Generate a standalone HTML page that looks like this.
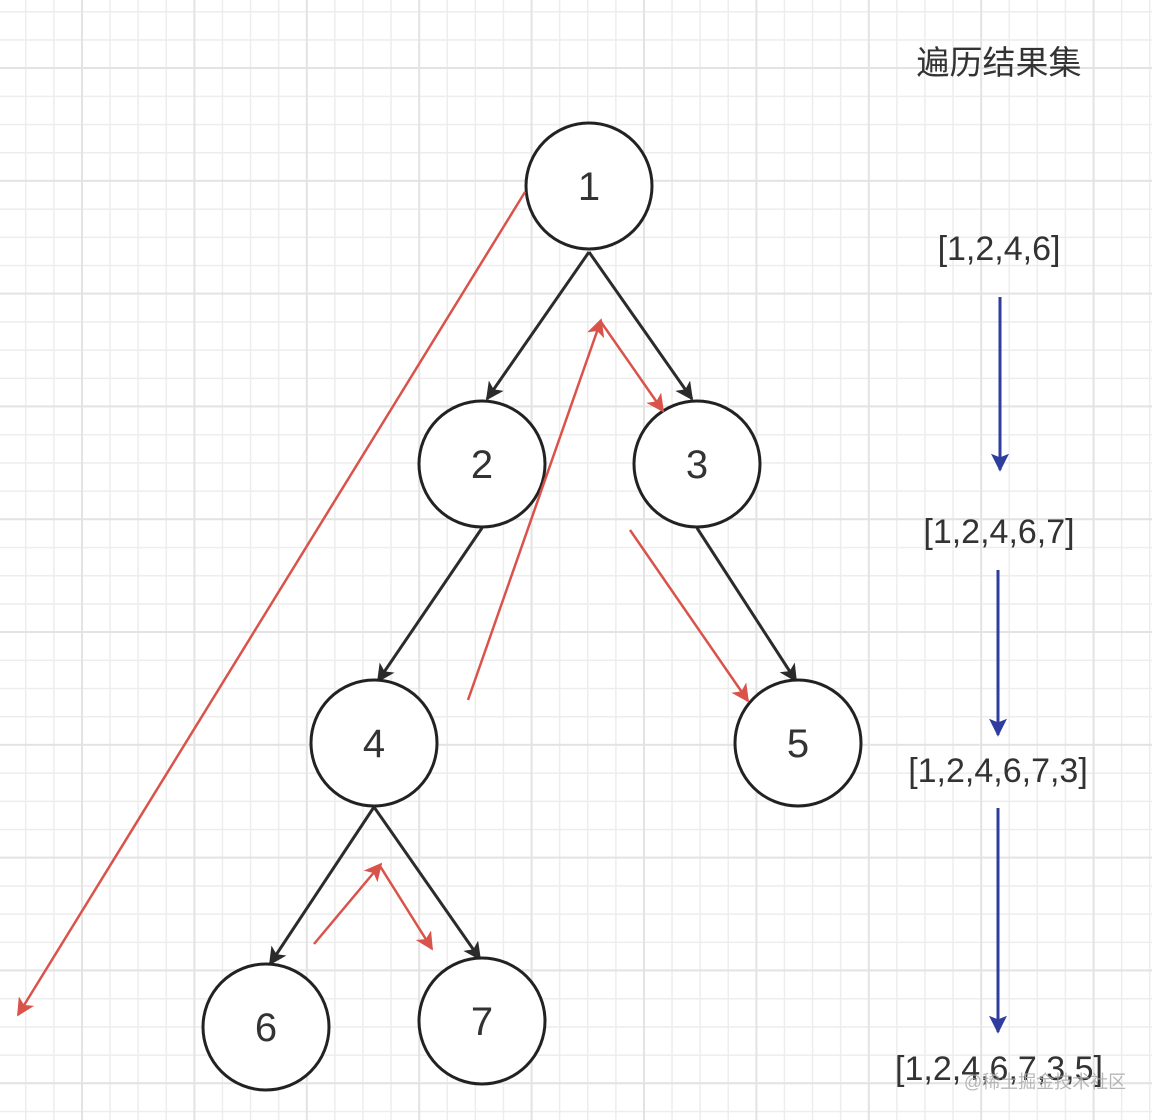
<!DOCTYPE html>
<html><head><meta charset="utf-8"><style>
html,body{margin:0;padding:0;background:#fff;}
svg{display:block;}
</style></head><body>
<svg width="1152" height="1120" viewBox="0 0 1152 1120" xmlns="http://www.w3.org/2000/svg">
<defs>
<pattern id="minor" x="25" y="11" width="28.1" height="28.2" patternUnits="userSpaceOnUse">
<path d="M0.75 0V28.2M0 0.75H28.1" stroke="#ededed" stroke-width="1.5" fill="none"/>
</pattern>
<pattern id="major" x="81" y="67" width="112.4" height="112.8" patternUnits="userSpaceOnUse">
<path d="M1 0V112.8M0 1H112.4" stroke="#e3e3e3" stroke-width="2" fill="none"/>
</pattern>
<marker id="bk" viewBox="0 0 10 10" refX="9" refY="5" markerWidth="24" markerHeight="18" orient="auto" markerUnits="userSpaceOnUse"><path d="M0 0L10 5L0 10L2.5 5Z" fill="#2b2b2b"/></marker>
<marker id="rd" viewBox="0 0 10 10" refX="9" refY="5" markerWidth="24" markerHeight="18" orient="auto" markerUnits="userSpaceOnUse"><path d="M0 0L10 5L0 10L2.5 5Z" fill="#d9534a"/></marker>
<marker id="bl" viewBox="0 0 10 10" refX="9" refY="5" markerWidth="26" markerHeight="18" orient="auto" markerUnits="userSpaceOnUse"><path d="M0 0L10 5L0 10L2 5Z" fill="#2f3e9e"/></marker>
</defs>
<rect width="1152" height="1120" fill="#fff"/>
<rect width="1152" height="1120" fill="url(#minor)"/>
<rect width="1152" height="1120" fill="url(#major)"/>

<g stroke="#2b2b2b" stroke-width="3" fill="none">
<line x1="589" y1="252" x2="487" y2="399" marker-end="url(#bk)"/>
<line x1="589" y1="252" x2="692" y2="399" marker-end="url(#bk)"/>
<line x1="482" y1="528" x2="378" y2="681" marker-end="url(#bk)"/>
<line x1="697" y1="528" x2="796" y2="681" marker-end="url(#bk)"/>
<line x1="374" y1="807" x2="270" y2="964" marker-end="url(#bk)"/>
<line x1="374" y1="807" x2="480" y2="959" marker-end="url(#bk)"/>
</g>

<g stroke="#222" stroke-width="3" fill="#fff">
<circle cx="589" cy="186" r="63"/>
<circle cx="482" cy="464" r="63"/>
<circle cx="697" cy="464" r="63"/>
<circle cx="374" cy="743" r="63"/>
<circle cx="798" cy="743" r="63"/>
<circle cx="266" cy="1027" r="63"/>
<circle cx="482" cy="1021" r="63"/>
</g>
<g font-family="Liberation Sans, sans-serif" font-size="40" fill="#333" text-anchor="middle">
<text x="589" y="200">1</text>
<text x="482" y="478">2</text>
<text x="697" y="478">3</text>
<text x="374" y="757">4</text>
<text x="798" y="757">5</text>
<text x="266" y="1041">6</text>
<text x="482" y="1035">7</text>
</g>

<g stroke="#d9534a" stroke-width="2.5" fill="none">
<line x1="525" y1="192" x2="18" y2="1015" marker-end="url(#rd)"/>
<line x1="468" y1="700" x2="601" y2="320" marker-end="url(#rd)"/>
<line x1="601" y1="322" x2="663" y2="411" marker-end="url(#rd)"/>
<line x1="630" y1="530" x2="748" y2="701" marker-end="url(#rd)"/>
<line x1="314" y1="944" x2="381" y2="864" marker-end="url(#rd)"/>
<line x1="380" y1="866" x2="432" y2="949" marker-end="url(#rd)"/>
</g>

<g stroke="#2f3e9e" stroke-width="3" fill="none">
<line x1="1000" y1="297" x2="1000" y2="470" marker-end="url(#bl)"/>
<line x1="998" y1="570" x2="998" y2="735" marker-end="url(#bl)"/>
<line x1="998" y1="808" x2="998" y2="1032" marker-end="url(#bl)"/>
</g>

<g font-family="Liberation Sans, 'Noto Sans CJK SC', sans-serif" fill="#333" text-anchor="middle">
<text x="999" y="74" font-size="33">遍历结果集</text>
<text x="999" y="260" font-size="34">[1,2,4,6]</text>
<text x="999" y="543" font-size="34">[1,2,4,6,7]</text>
<text x="998" y="782" font-size="34">[1,2,4,6,7,3]</text>
<text x="999" y="1080" font-size="34">[1,2,4,6,7,3,5]</text>
<text x="1045" y="1088" font-size="18" fill="#aaa" fill-opacity="0.85">@稀土掘金技术社区</text>
</g>
</svg>
</body></html>
